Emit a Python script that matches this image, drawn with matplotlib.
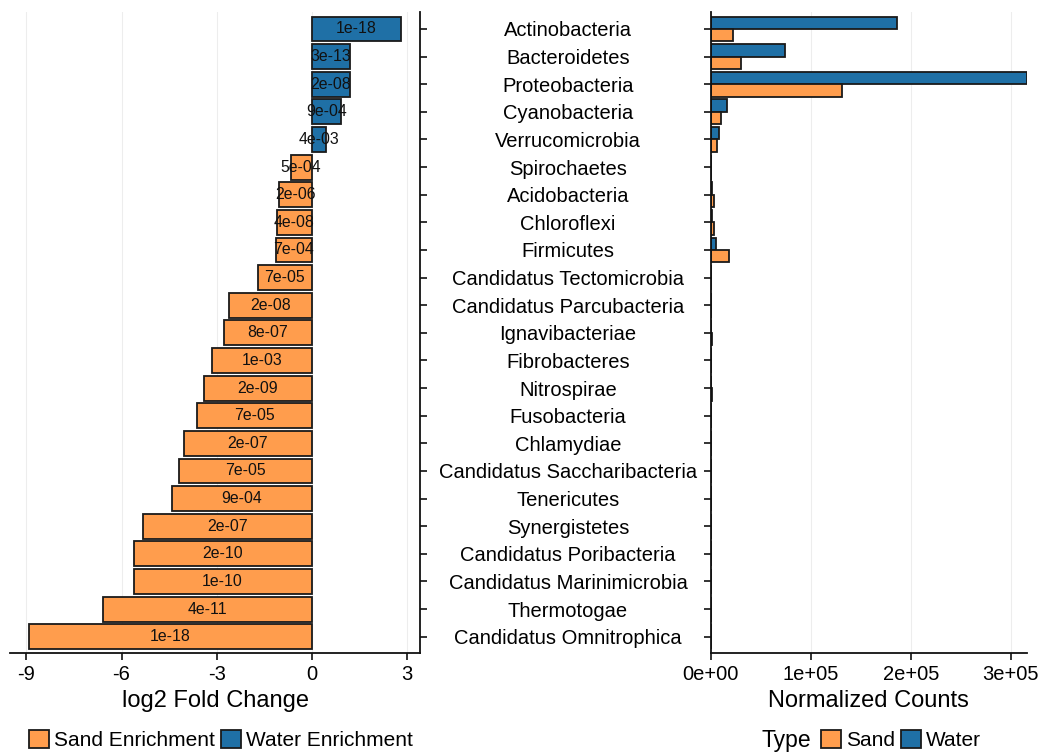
import matplotlib
matplotlib.use("Agg")
import matplotlib.pyplot as plt
from matplotlib.patches import Patch
import numpy as np

plt.rcParams['font.family'] = ['Liberation Sans', 'DejaVu Sans']

phyla = ["Actinobacteria", "Bacteroidetes", "Proteobacteria", "Cyanobacteria",
         "Verrucomicrobia", "Spirochaetes", "Acidobacteria", "Chloroflexi",
         "Firmicutes", "Candidatus Tectomicrobia", "Candidatus Parcubacteria",
         "Ignavibacteriae", "Fibrobacteres", "Nitrospirae", "Fusobacteria",
         "Chlamydiae", "Candidatus Saccharibacteria", "Tenericutes",
         "Synergistetes", "Candidatus Poribacteria", "Candidatus Marinimicrobia",
         "Thermotogae", "Candidatus Omnitrophica"]

log2fc = [2.83, 1.22, 1.21, 0.93, 0.44, -0.66, -1.03, -1.10, -1.13, -1.70,
          -2.60, -2.78, -3.13, -3.39, -3.63, -4.02, -4.19, -4.41, -5.33,
          -5.61, -5.62, -6.60, -8.93]

padj_labels = ["1e-18", "3e-13", "2e-08", "9e-04", "4e-03", "5e-04", "2e-06",
               "4e-08", "7e-04", "7e-05", "2e-08", "8e-07", "1e-03", "2e-09",
               "7e-05", "2e-07", "7e-05", "9e-04", "2e-07", "2e-10", "1e-10",
               "4e-11", "1e-18"]

water_counts = [186600, 74300, 316000, 16700, 8000, 400, 1000, 800, 5700,
                100, 100, 300, 100, 300, 50, 50, 50, 50, 50, 50, 50, 50, 50]
sand_counts = [22600, 30700, 131000, 10000, 6000, 200, 3000, 2800, 18000,
               200, 200, 1500, 300, 1500, 100, 100, 100, 100, 100, 100, 100, 100, 100]

ORANGE = "#FF9D4D"
BLUE = "#1F70A6"
EDGE = "#1a1a1a"
GRID = "#EDEDED"

W, H = 1042, 752
fig = plt.figure(figsize=(W / 100, H / 100), dpi=100)

n = len(phyla)
ypos = np.arange(n)[::-1]  # first category at top

top = 1 - 12.4 / H
bottom = 1 - 653.3 / H
ax1 = fig.add_axes([10 / W, bottom, (420 - 10) / W, top - bottom])
ax2 = fig.add_axes([710.7 / W, bottom, (1026.7 - 710.7) / W, top - bottom])

tick_fs = 14.5
# ---------- left panel ----------
colors = [BLUE if v > 0 else ORANGE for v in log2fc]
ax1.set_axisbelow(True)
ax1.barh(ypos, log2fc, height=0.9, color=colors, edgecolor=EDGE, linewidth=1.3)
for y, v, lab in zip(ypos, log2fc, padj_labels):
    ax1.text(v / 2, y, lab, ha='center', va='center', fontsize=11.4, color='#111111')
ax1.set_xlim(-9.52, 3.42)
ax1.set_ylim(-0.6, n - 0.4)
ax1.set_xticks([-9, -6, -3, 0, 3])
ax1.set_xticklabels(["-9", "-6", "-3", "0", "3"])
ax1.xaxis.grid(True, color=GRID, linewidth=0.8)
ax1.yaxis.tick_right()
ax1.set_yticks(ypos)
ax1.set_yticklabels([])
for s in ["top", "left"]:
    ax1.spines[s].set_visible(False)
for s in ["bottom", "right"]:
    ax1.spines[s].set_linewidth(1.3)
    ax1.spines[s].set_color("#111111")
ax1.tick_params(axis='both', length=5, width=1.2, color="#111111",
                labelsize=tick_fs, direction='out')
ax1.set_xlabel("log2 Fold Change", fontsize=17, labelpad=4)

# ---------- right panel ----------
ax2.set_axisbelow(True)
ax2.barh(ypos + 0.225, water_counts, height=0.45, color=BLUE, edgecolor=EDGE, linewidth=1.3)
ax2.barh(ypos - 0.225, sand_counts, height=0.45, color=ORANGE, edgecolor=EDGE, linewidth=1.3)
ax2.set_xlim(0, max(water_counts))
ax2.set_ylim(-0.6, n - 0.4)
ax2.set_xticks([0, 100000, 200000, 300000])
ax2.set_xticklabels(["0e+00", "1e+05", "2e+05", "3e+05"])
ax2.xaxis.grid(True, color=GRID, linewidth=0.8)
ax2.set_yticks(ypos)
ax2.set_yticklabels(phyla, ha='center')
for s in ["top", "right"]:
    ax2.spines[s].set_visible(False)
for s in ["bottom", "left"]:
    ax2.spines[s].set_linewidth(1.3)
    ax2.spines[s].set_color("#111111")
ax2.tick_params(axis='both', length=5, width=1.2, color="#111111",
                labelsize=tick_fs, direction='out')
ax2.tick_params(axis='y', pad=(710.7 - 5 * 100 / 72 - 568) * 0.72)
ax2.set_xlabel("Normalized Counts", fontsize=17, labelpad=4)

# ---------- legends ----------
leg_y = 1 - 740 / H
h1 = [Patch(facecolor=ORANGE, edgecolor=EDGE, linewidth=1.3),
      Patch(facecolor=BLUE, edgecolor=EDGE, linewidth=1.3)]
fig.legend(h1, ["Sand Enrichment", "Water Enrichment"], loc='center left',
           bbox_to_anchor=(29 / W, leg_y), ncol=2, frameon=False,
           fontsize=15, handlelength=0.95, handleheight=0.95,
           handletextpad=0.25, columnspacing=0.3, borderpad=0, borderaxespad=0)

fig.text(762 / W, leg_y, "Type", fontsize=16.5, ha='left', va='center')
fig.legend(h1, ["Sand", "Water"], loc='center left',
           bbox_to_anchor=(821 / W, leg_y), ncol=2, frameon=False,
           fontsize=15, handlelength=0.95, handleheight=0.95,
           handletextpad=0.25, columnspacing=0.3, borderpad=0, borderaxespad=0)

fig.savefig("out.png", dpi=100)
